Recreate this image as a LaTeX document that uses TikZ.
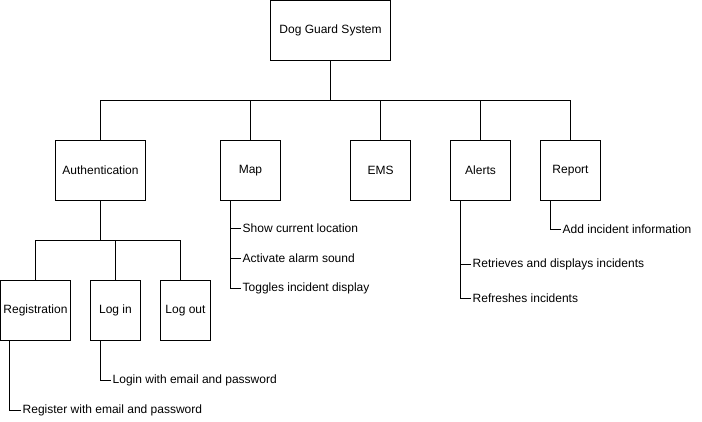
\documentclass[tikz,border=0pt]{standalone}
\usepackage{fontspec}
\setmainfont{Liberation Sans}
\usetikzlibrary{calc}

\tikzset{
    block/.style={draw,line width=1pt,minimum height=60pt,inner sep=0pt,font=\fontsize{12}{14}\selectfont},
    item/.style={anchor=west,inner sep=2pt,font=\fontsize{12}{14}\selectfont},
    wire/.style={line width=1pt}
}

\begin{document}
\begin{tikzpicture}[x=1pt,y=-1pt]
                \useasboundingbox (-0.5,-0.5) rectangle (701.5,421.5);

                % top level
                \node[block,minimum width=120pt] (root) at (330,30) {Dog Guard System};

                % modules
                \node[block,minimum width=90pt] (auth) at (100,170) {Authentication};
                \node[block,minimum width=60pt] (map) at (250,170) {Map};
                \node[block,minimum width=60pt] (ems) at (380,170) {EMS};
                \node[block,minimum width=60pt] (alerts) at (480,170) {Alerts};
                \node[block,minimum width=60pt] (report) at (570,170) {Report};

                % authentication parts
                \node[block,minimum width=70pt] (reg) at (35,310) {Registration};
                \node[block,minimum width=50pt] (login) at (115,310) {Log in};
                \node[block,minimum width=50pt] (logout) at (185,310) {Log out};

                % items
                \node[item] (loc) at (240,228) {Show current location};
                \node[item] (alarm) at (240,258) {Activate alarm sound};
                \node[item] (toggle) at (240,288) {Toggles incident display};
                \node[item] (retr) at (470,264) {Retrieves and displays incidents};
                \node[item] (refr) at (470,298) {Refreshes incidents};
                \node[item] (addinc) at (560,229) {Add incident information};
                \node[item] (logintxt) at (110,380) {Login with email and password};
                \node[item] (regtxt) at (20,410) {Register with email and password};

                % tree
                \coordinate (bus) at (330,100);
                \draw[wire] (root.south) -- (bus);
                \foreach \n in {auth,map,ems,alerts,report}
                    \draw[wire] (bus) -| (\n.north);

                \coordinate (authbus) at (100,240);
                \draw[wire] (auth.south) -- (authbus);
                \draw[wire] (authbus) -| (reg.north);
                \draw[wire] (authbus) -| (login.north);
                \draw[wire] (authbus) -| ([xshift=20pt]logout.north west);

                % item links
                \foreach \t in {loc,alarm,toggle}
                    \draw[wire] ([xshift=10pt]map.south west) |- (\t.west);
                \foreach \t in {retr,refr}
                    \draw[wire] ([xshift=10pt]alerts.south west) |- (\t.west);
                \draw[wire] ([xshift=10pt]report.south west) |- (addinc.west);
                \draw[wire] ([xshift=10pt]login.south west) |- (logintxt.west);
                \draw[wire] ([xshift=10pt]reg.south west) |- (regtxt.west);
\end{tikzpicture}
\end{document}
